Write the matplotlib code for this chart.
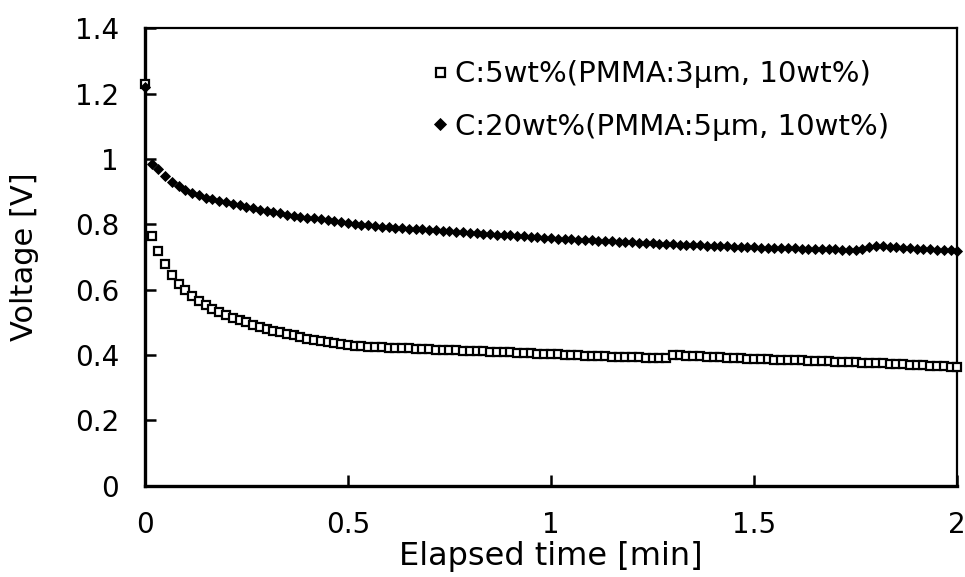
import matplotlib
matplotlib.use("Agg")
import matplotlib.pyplot as plt
import numpy as np
from matplotlib.ticker import FuncFormatter

# sampled once a second for two minutes
time_s = np.arange(0, 121)

c5_volt = [
    1.230, 0.765, 0.720, 0.678, 0.645, 0.618, 0.598, 0.580, 0.565, 0.552,
    0.542, 0.532, 0.523, 0.515, 0.507, 0.500, 0.493, 0.487, 0.481, 0.475,
    0.470, 0.465, 0.460, 0.455, 0.450, 0.446, 0.442, 0.439, 0.436, 0.433,
    0.431, 0.429, 0.427, 0.426, 0.425, 0.424, 0.423, 0.422, 0.421, 0.421,
    0.420, 0.419, 0.418, 0.417, 0.416, 0.416, 0.415, 0.414, 0.413, 0.413,
    0.412, 0.411, 0.410, 0.409, 0.408, 0.407, 0.406, 0.405, 0.404, 0.404,
    0.403, 0.402, 0.401, 0.400, 0.399, 0.398, 0.397, 0.397, 0.396, 0.395,
    0.395, 0.394, 0.393, 0.393, 0.392, 0.391, 0.391, 0.390, 0.400, 0.399,
    0.398, 0.397, 0.396, 0.395, 0.394, 0.393, 0.392, 0.391, 0.390, 0.389,
    0.389, 0.388, 0.387, 0.386, 0.386, 0.385, 0.384, 0.384, 0.383, 0.382,
    0.382, 0.381, 0.380, 0.380, 0.379, 0.378, 0.377, 0.377, 0.376, 0.375,
    0.374, 0.373, 0.372, 0.371, 0.370, 0.369, 0.368, 0.367, 0.366, 0.365,
    0.363,
]

c20_volt = [
    1.220, 0.985, 0.968, 0.948, 0.930, 0.916, 0.905, 0.896, 0.889, 0.882,
    0.877, 0.872, 0.867, 0.862, 0.858, 0.853, 0.849, 0.845, 0.841, 0.837,
    0.834, 0.830, 0.827, 0.824, 0.821, 0.818, 0.815, 0.812, 0.809, 0.806,
    0.803, 0.801, 0.799, 0.797, 0.795, 0.793, 0.792, 0.790, 0.789, 0.787,
    0.786, 0.785, 0.783, 0.782, 0.780, 0.779, 0.777, 0.776, 0.774, 0.773,
    0.772, 0.770, 0.769, 0.767, 0.766, 0.765, 0.763, 0.762, 0.760, 0.759,
    0.757, 0.756, 0.755, 0.754, 0.753, 0.752, 0.751, 0.750, 0.749, 0.748,
    0.747, 0.746, 0.745, 0.744, 0.743, 0.742, 0.741, 0.740, 0.739, 0.738,
    0.737, 0.737, 0.736, 0.735, 0.734, 0.734, 0.733, 0.732, 0.731, 0.731,
    0.730, 0.729, 0.729, 0.728, 0.728, 0.727, 0.727, 0.726, 0.726, 0.725,
    0.725, 0.724, 0.724, 0.723, 0.723, 0.723, 0.726, 0.730, 0.733, 0.734,
    0.732, 0.730, 0.728, 0.727, 0.726, 0.725, 0.724, 0.723, 0.722, 0.721,
    0.720,
]

labels = ["C:5wt%(PMMA:3μm, 10wt%)", "C:20wt%(PMMA:5μm, 10wt%)"]

plt.rcParams["font.family"] = ["DejaVu Sans"]

t_min = time_s / 60.0

fig = plt.figure(figsize=(9.65, 5.77), dpi=100)
ax = fig.add_axes([0.150, 0.158, 0.842, 0.793])

ax.plot(t_min, c5_volt, linestyle="none", marker="s", markersize=5.4,
        markerfacecolor="white", markeredgecolor="black", markeredgewidth=1.6,
        label=labels[0], zorder=3, clip_on=False)
ax.plot(t_min, c20_volt, linestyle="none", marker="D", markersize=5.4,
        markerfacecolor="black", markeredgecolor="black", markeredgewidth=0.6,
        label=labels[1], zorder=4, clip_on=False)

ax.set_xlim(0, 2)
ax.set_ylim(0, 1.4)
ax.set_xticks([0, 0.5, 1, 1.5, 2])
ax.set_yticks([0, 0.2, 0.4, 0.6, 0.8, 1.0, 1.2, 1.4])
fmt = FuncFormatter(lambda v, p: "%g" % v)
ax.xaxis.set_major_formatter(fmt)
ax.yaxis.set_major_formatter(fmt)
ax.tick_params(direction="in", length=8, width=1.8, labelsize=20)
ax.tick_params(axis="y", pad=18.5)
ax.tick_params(axis="x", pad=18)

for side in ["left", "bottom"]:
    ax.spines[side].set_linewidth(2.4)
for side in ["top", "right"]:
    ax.spines[side].set_linewidth(1.6)

ax.set_xlabel("Elapsed time [min]", fontsize=23)
ax.set_ylabel("Voltage [V]", fontsize=22)
ax.xaxis.set_label_coords(0.5, -0.12)
ax.yaxis.set_label_coords(-0.13, 0.5)

ax.legend(loc="upper left", bbox_to_anchor=(0.353, 0.930), frameon=False,
          fontsize=21, handlelength=0.6, handletextpad=0.22,
          labelspacing=0.83, borderaxespad=0, borderpad=0, markerscale=1.2)

fig.savefig("out.png", dpi=100)
